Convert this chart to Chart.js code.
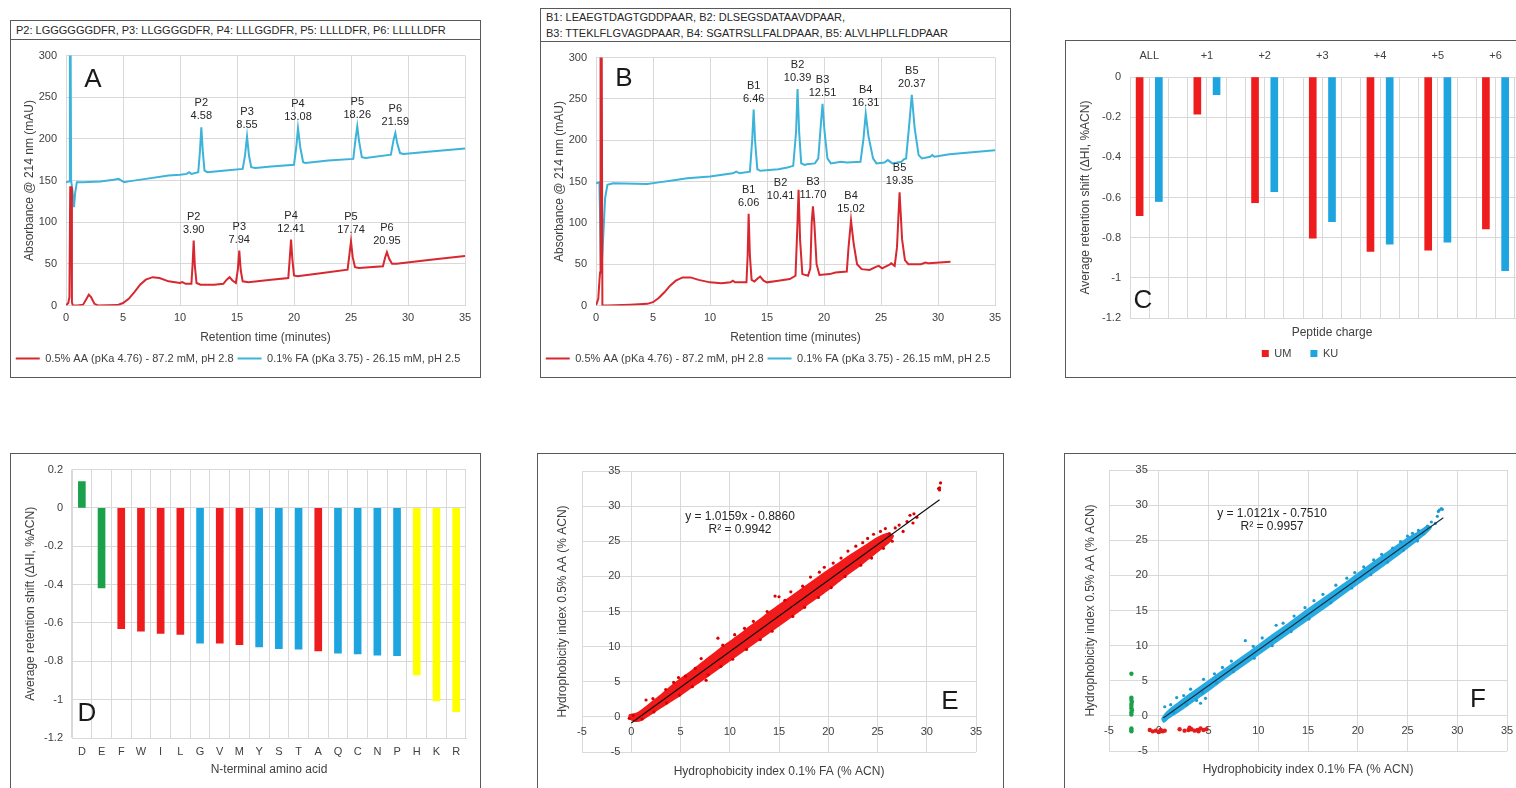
<!DOCTYPE html>
<html>
<head>
<meta charset="utf-8">
<script src="https://cdn.jsdelivr.net/npm/chart.js@4.4.1/dist/chart.umd.min.js"></script>
<style>
  html, body { margin: 0; padding: 0; background: #fff; }
  body { width: 1516px; height: 788px; position: relative; overflow: hidden;
         font-family: "Liberation Sans", Arial, sans-serif; color: #404040; }
  .panel { position: absolute; box-sizing: border-box; border: 1px solid #595959; }
  .seq { position: absolute; left: 0; right: 0; top: 0; box-sizing: border-box;
         border-bottom: 1px solid #595959; font-size: 11px; color: #262626;
         line-height: 16px; padding-left: 5px; white-space: nowrap; }
  canvas { position: absolute; }
  .tag { position: absolute; font-size: 26px; color: #1a1a1a; line-height: 1;
         transform: translate(-50%, -50%); }
  .fit { position: absolute; font-size: 12px; color: #262626; text-align: center;
         line-height: 13px; transform: translateX(-50%); white-space: nowrap; }
</style>
</head>
<body>

<div class="panel" style="left:10px;top:20px;width:471px;height:358px;">
  <div class="seq" style="height:19px;padding-top:1px;">P2: LGGGGGGDFR, P3: LLGGGGDFR, P4: LLLGGDFR, P5: LLLLDFR, P6: LLLLLDFR</div>
</div>
<div class="panel" style="left:540px;top:8px;width:471px;height:370px;">
  <div class="seq" style="height:33px;padding-top:0;">B1: LEAEGTDAGTGDDPAAR, B2: DLSEGSDATAAVDPAAR,<br>B3: TTEKLFLGVAGDPAAR, B4: SGATRSLLFALDPAAR, B5: ALVLHPLLFLDPAAR</div>
</div>
<div class="panel" style="left:1065px;top:40px;width:480px;height:338px;"></div>
<div class="panel" style="left:10px;top:453px;width:471px;height:360px;"></div>
<div class="panel" style="left:537px;top:453px;width:467px;height:360px;"></div>
<div class="panel" style="left:1064px;top:453px;width:480px;height:360px;"></div>

<canvas id="chartA" width="469" height="337" style="left:11px;top:40px;"></canvas>
<canvas id="chartB" width="469" height="335" style="left:541px;top:42px;"></canvas>
<canvas id="chartC" width="470" height="336" style="left:1066px;top:41px;"></canvas>
<canvas id="chartD" width="469" height="334" style="left:11px;top:454px;"></canvas>
<canvas id="chartE" width="465" height="334" style="left:538px;top:454px;"></canvas>
<canvas id="chartF" width="470" height="334" style="left:1065px;top:454px;"></canvas>

<div class="tag" style="left:93px;top:78px;">A</div>
<div class="tag" style="left:624px;top:77px;">B</div>
<div class="tag" style="left:1143px;top:299px;">C</div>
<div class="tag" style="left:87px;top:712px;">D</div>
<div class="tag" style="left:950px;top:700px;">E</div>
<div class="tag" style="left:1478px;top:698px;">F</div>

<div class="fit" id="fitE" style="left:740px;top:510px;"></div>
<div class="fit" id="fitF" style="left:1272px;top:507px;"></div>

<script>
// ---- chromatograms (retention time in min, absorbance in mAU) ----
const aaTraceA = [[0,0],[0.2,3],[0.3,10],[0.37,142],[0.45,142],[0.52,4],[0.6,0],[1.0,0],[1.5,1],[1.8,8],[2.0,13],[2.2,10],
  [2.5,2],[2.8,0],[4.5,0.5],[5,3],[5.5,8],[6,16],[6.5,25],[7,31],[7.6,34],[8.2,33],[9,29],[10,27],[10.2,28],[10.5,26],
  [11.0,26],[11.1,48],[11.2,78],[11.3,48],[11.45,27],[11.8,25],[13,25],[13.8,26],[14.1,31],[14.35,34],[14.6,30],[14.9,27],
  [15.08,44],[15.2,66],[15.33,42],[15.5,29],[16,28],[18,31],[19.5,33],[19.62,55],[19.74,79],[19.86,55],[20.0,36],[20.3,35],
  [22,38],[24.7,43],[24.85,60],[25.0,77],[25.15,58],[25.35,46],[25.7,45],[27.8,47],[28.0,58],[28.15,64],[28.35,56],[28.6,50],
  [29,50],[32,55],[35,59.5]];
const faTraceA = [[0,148],[0.3,149],[0.34,330],[0.4,330],[0.45,150],[0.55,140],[0.7,118],[0.8,135],[0.95,148],[1.5,148],
  [3,149],[4.2,151],[4.6,152],[5.1,148],[5.5,149],[7,152],[9,156],[10,157],[10.6,158],[10.8,160],[11,158],[11.6,160],
  [11.75,185],[11.87,214],[12.0,185],[12.15,162],[12.4,160],[14,162],[15.5,164],[15.7,180],[15.88,203],[16.05,180],
  [16.25,166],[16.6,165],[18,167],[20.0,169],[20.2,190],[20.35,213],[20.55,190],[20.8,172],[21,171],[23,174],[25.2,176],
  [25.4,200],[25.55,215],[25.7,198],[25.95,178],[26.3,177],[28.5,181],[28.75,200],[28.89,207],[29.05,195],[29.3,183],
  [29.6,182],[32,185],[35,188.5]];
const aaTraceB = [[0,0],[0.2,8],[0.3,30],[0.36,40],[0.4,330],[0.5,330],[0.56,0],[1,0],[3,1],[4.5,2],[5,4],[5.5,9],[6,16],
  [6.5,24],[7,30],[7.6,34],[8.3,34],[9,31],[10,28],[11,27],[11.8,28],[12,30],[12.2,28],[13.2,28],[13.3,60],[13.39,111],
  [13.5,60],[13.65,31],[13.9,29],[14.2,33],[14.4,35],[14.7,30],[15,28],[16,30],[17,32],[17.5,36],[17.65,90],[17.77,140],
  [17.9,80],[18.1,38],[18.6,36],[18.8,45],[18.92,100],[19.03,120],[19.15,100],[19.35,50],[19.6,37],[20.5,38],[21,40],
  [22,41],[22.15,70],[22.37,103],[22.6,75],[22.9,50],[23.3,44],[24,43],[24.6,47],[24.8,48],[25.1,45],[25.7,49],[25.9,51],
  [26.2,48],[26.4,70],[26.63,137],[26.85,80],[27.1,55],[27.4,50],[28.5,50],[28.9,52],[29.2,51],[31.1,53]];
const faTraceB = [[0,148],[0.3,149],[0.45,40],[0.55,60],[0.8,130],[1.0,146],[1.5,148],[4.5,147],[5.5,149],[7,152],[8,154],
  [10,156],[12,160],[12.3,162],[12.6,160],[13.5,162],[13.7,200],[13.83,237],[13.95,200],[14.15,165],[14.4,163],[16,165],
  [16.8,167],[17.3,169],[17.55,210],[17.68,262],[17.82,210],[18.0,172],[18.3,170],[18.5,171],[19.2,172],[19.5,178],
  [19.7,215],[19.87,244],[20.05,210],[20.3,178],[20.6,172],[21.5,174],[22,173],[23.2,174],[23.45,200],[23.66,232],
  [23.9,205],[24.3,178],[24.6,172],[25.3,173],[25.6,176],[26,172],[26.8,174],[27.0,177],[27.2,178],[27.45,215],[27.7,255],
  [27.95,215],[28.3,182],[28.6,178],[29.3,180],[29.5,182],[29.7,180],[31,183],[35,188]];

// peaks: names, apex time, hydrophobicity index printed above each peak
const peptidesA = ['P2', 'P3', 'P4', 'P5', 'P6'];
const aaPeakTimesA = [11.2, 15.2, 19.74, 25.0, 28.15];
const aaHiA = ['3.90', '7.94', '12.41', '17.74', '20.95'];
const faPeakTimesA = [11.87, 15.88, 20.35, 25.55, 28.89];
const faHiA = ['4.58', '8.55', '13.08', '18.26', '21.59'];
const peptidesB = ['B1', 'B2', 'B3', 'B4', 'B5'];
const aaPeakTimesB = [13.39, 17.77, 19.03, 22.37, 26.63];
const aaHiB = ['6.06', '10.41', '11.70', '15.02', '19.35'];
const faPeakTimesB = [13.83, 17.68, 19.87, 23.66, 27.7];
const faHiB = ['6.46', '10.39', '12.51', '16.31', '20.37'];

// ---- average retention shift by peptide charge ----
const charges = ['ALL', '+1', '+2', '+3', '+4', '+5', '+6'];
const umShift = [-0.69, -0.185, -0.626, -0.803, -0.869, -0.862, -0.757];
const kuShift = [-0.62, -0.088, -0.571, -0.72, -0.833, -0.823, -0.964];

// ---- average retention shift by N-terminal residue ----
const residues = ['D','E','F','W','I','L','G','V','M','Y','S','T','A','Q','C','N','P','H','K','R'];
const residueShift = [0.137, -0.417, -0.630, -0.643, -0.654, -0.660, -0.706, -0.706, -0.713, -0.725,
  -0.734, -0.737, -0.746, -0.758, -0.761, -0.768, -0.771, -0.871, -1.006, -1.063];
const residueGroup = ['acidic','acidic','hydrophobic','hydrophobic','hydrophobic','hydrophobic','polar','hydrophobic',
  'hydrophobic','polar','polar','polar','hydrophobic','polar','polar','polar','polar','basic','basic','basic'];

// ---- HI correlation, AA vs FA ----
const eCloud = [[-0.2,0.3],[0.5,0.5],[1,0.9],[2,2.0],[3,3.1],[4,4.3],[5,5.4],[6,6.4],[7,7.5],[8,8.6],[9,9.7],[10,10.7],
  [11,11.7],[12,12.8],[13,13.8],[14,14.9],[15,15.9],[16,16.9],[17,17.9],[18,18.9],[19,19.9],[20,20.9],[21,21.8],
  [22,22.8],[23,23.7],[24,24.6],[25,25.5],[26,26.1],[26.6,25.8],[26.2,24.9],[25,23.5],[24,22.4],[23,21.3],[22,20.3],
  [21,19.2],[20,18.1],[19,17.1],[18,16.1],[17,15.0],[16,14.0],[15,13.0],[14,12.0],[13,11.0],[12,10.0],[11,9.0],
  [10,8.0],[9,7.0],[8,6.0],[7,5.0],[6,4.1],[5,3.1],[4,2.2],[3,1.3],[2,0.4],[1,-0.5],[0.3,-0.6],[-0.2,-0.2],[-0.2,0.3]];
const eSpread = [[1.5,2.4],[2.2,2.6],[3.5,3.9],[4.3,4.9],[4.8,5.6],[5.5,5.8],[6.5,6.9],[7.1,8.3],[7.6,5.2],[8.8,11.2],
  [9.3,10.2],[10.5,11.7],[11.5,12.6],[12.4,13.6],[13.8,15.0],[14.6,17.2],[15.0,17.1],[15.6,16.6],[16.2,17.8],
  [17.4,18.6],[18.2,19.9],[19.1,20.6],[19.6,21.3],[20.5,21.9],[21.3,22.6],[22.0,23.6],[22.8,24.3],[23.5,24.8],
  [24.0,25.4],[24.6,26.0],[25.3,26.4],[25.8,26.8],[26.2,26.1],[26.8,26.9],[27.2,27.3],[27.6,26.4],[28.0,27.8],
  [28.3,28.7],[28.7,28.9],[29.0,28.4],[28.6,27.6],[26.5,25.0],[25.6,24.0],[24.4,22.6],[23.3,21.6],[21.7,20.0],
  [20.3,18.4],[19.0,17.0],[17.6,15.6],[16.4,14.3],[14.3,12.2],[13.1,11.0],[11.7,9.6],[10.3,8.2],[9.1,7.2],[7.8,6.0],
  [6.2,4.3],[4.9,3.1],[3.6,2.0],[2.3,0.7],[1.1,-0.3],[0.2,0.2],[-0.2,-0.2],[31.3,32.3],[31.3,32.6],[31.4,33.3],[31.2,32.5]];
const eFit = { slope: 1.0159, intercept: -0.8860, r2: '0.9942', from: 0, to: 31.3 };

const fCloud = [[0.3,-0.4],[0.6,0.2],[1,0.8],[2,1.9],[3,3.0],[4,4.0],[5,5.0],[7,7.0],[9,9.0],[11,11.1],[13,13.1],
  [15,15.2],[17,17.2],[19,19.2],[21,21.3],[23,23.3],[25,25.3],[26,26.1],[27,27.0],[27.4,26.9],[27,26.2],[26,25.0],
  [25,23.9],[23,21.8],[21,19.8],[19,17.8],[17,15.7],[15,13.7],[13,11.7],[11,9.7],[9,7.7],[7,5.7],[5,3.6],[4,2.6],
  [3,1.6],[2,0.6],[1,-0.3],[0.5,-0.9],[0.3,-0.4]];
const fSpread = [[0.6,1.3],[1.2,1.6],[1.8,2.6],[2.5,2.9],[3.2,3.8],[3.8,2.2],[4.2,1.8],[4.7,2.5],[4.5,5.2],[5.6,6.0],
  [6.4,6.9],[7.3,7.8],[8.7,10.7],[9.5,9.9],[10.4,11.1],[11.8,12.9],[12.5,13.2],[13.6,14.2],[14.7,15.4],[15.6,16.4],
  [16.5,17.3],[17.8,18.6],[18.9,19.6],[19.7,20.4],[20.6,21.2],[21.6,22.2],[22.4,23.0],[23.5,23.9],[24.3,24.8],
  [25.0,25.6],[25.5,26.0],[26.1,26.4],[26.6,25.9],[27.0,27.0],[27.4,27.6],[27.8,27.4],[28.0,28.4],[28.2,29.3],
  [28.4,29.5],[28.1,29.1],[28.5,29.4],[26.0,24.9],[24.6,23.6],[23.0,21.9],[21.3,20.1],[19.4,18.2],[17.3,16.1],
  [15.1,13.8],[13.3,12.0],[11.4,10.0],[9.6,8.2],[7.5,6.3],[5.8,4.7],[4.4,3.3],[2.8,1.6],[1.5,0.5]];
const fAcidic = [[-2.75,6.0],[-2.75,2.6],[-2.75,2.3],[-2.7,2.0],[-2.75,1.7],[-2.75,1.4],[-2.75,1.1],[-2.7,0.8],
  [-2.75,0.5],[-2.75,0.2],[-2.75,-1.8],[-2.75,-2.0],[-2.75,-2.2]];
const fShifted = [[-0.9,-2.0],[-0.6,-2.2],[-0.3,-2.1],[0,-2.3],[0.2,-2.0],[0.4,-2.2],[0.6,-2.1],[2.1,-1.9],[2.6,-2.1],
  [3.0,-2.0],[3.1,-1.7],[3.3,-1.9],[3.6,-2.1],[3.9,-2.0],[4.0,-2.2],[4.2,-1.8],[4.5,-2.0],[4.8,-1.9]];
const fFit = { slope: 1.0121, intercept: -0.7510, r2: '0.9957', from: 0.45, to: 28.6 };

// ---- shared styling ----
const FONT = '"Liberation Sans", Arial, sans-serif';
const GRID = '#d9d9d9';
const TRACE_RED = '#d7282f';
const TRACE_BLUE = '#3cb3d8';
const BAR_RED = '#ee1c1c';
const BAR_BLUE = '#1ea5e0';
const GROUP_COLORS = { acidic: '#1ca14b', hydrophobic: BAR_RED, polar: BAR_BLUE, basic: '#ffff00' };

Chart.defaults.font.family = FONT;
Chart.defaults.font.size = 11;
Chart.defaults.color = '#404040';
Chart.defaults.animation = false;
Chart.defaults.responsive = false;
Chart.defaults.devicePixelRatio = 1;
Chart.defaults.plugins.tooltip.enabled = false;

const fixWidth = w => axis => { axis.width = w; };
const fixHeight = h => axis => { axis.height = h; };
const titleFont = { size: 12 };
const shortNum = v => String(Math.round(v * 10) / 10);

// two-line peak annotation above each apex
function peakLabels(sets) {
  return {
    id: 'peakLabels',
    afterDatasetsDraw(chart) {
      const { ctx, scales: { x, y } } = chart;
      ctx.save();
      ctx.font = '11px ' + FONT;
      ctx.fillStyle = '#262626';
      ctx.textAlign = 'center';
      ctx.textBaseline = 'middle';
      sets.forEach(set => {
        const trace = chart.data.datasets[set.dataset].data;
        set.times.forEach((t, i) => {
          const near = trace.filter(p => Math.abs(p[0] - t) < 0.2);
          const apex = near.reduce((a, b) => (b[1] > a[1] ? b : a));
          const [dx, dy] = (set.nudge && set.nudge[i]) || [0, 0];
          const px = x.getPixelForValue(apex[0]) + dx;
          const py = y.getPixelForValue(apex[1]) + dy;
          ctx.fillText(set.names[i], px, py - 24);
          ctx.fillText(set.values[i], px, py - 11);
        });
      });
      ctx.restore();
    }
  };
}

function chromatogram(id, padTop, aaTrace, faTrace, sets) {
  return new Chart(document.getElementById(id), {
    type: 'line',
    data: {
      datasets: [
        { label: '0.5% AA (pKa 4.76) - 87.2 mM, pH 2.8', data: aaTrace, borderColor: TRACE_RED,
          backgroundColor: TRACE_RED, borderWidth: 2, pointRadius: 0, tension: 0 },
        { label: '0.1% FA (pKa 3.75) - 26.15 mM, pH 2.5', data: faTrace, borderColor: TRACE_BLUE,
          backgroundColor: TRACE_BLUE, borderWidth: 2, pointRadius: 0, tension: 0 }
      ]
    },
    options: {
      layout: { padding: { left: 0, right: 15, top: padTop, bottom: 3 } },
      scales: {
        x: { type: 'linear', min: 0, max: 35,
             ticks: { stepSize: 5, padding: 6 },
             grid: { color: GRID, drawTicks: false }, border: { color: GRID },
             title: { display: true, text: 'Retention time (minutes)', padding: { bottom: 4.3 }, font: titleFont },
             afterFit: fixHeight(43.5) },
        y: { min: 0, max: 300,
             ticks: { stepSize: 50, padding: 9 },
             grid: { color: GRID, drawTicks: false }, border: { color: GRID },
             title: { display: true, text: 'Absorbance @ 214 nm (mAU)', padding: { top: 11 }, font: titleFont },
             afterFit: fixWidth(55) }
      },
      plugins: {
        legend: { position: 'bottom',
                  labels: { usePointStyle: true, pointStyle: 'line', pointStyleWidth: 24, padding: 4,
                            font: { size: 11 }, color: '#404040' } }
      }
    },
    plugins: [peakLabels(sets)]
  });
}

chromatogram('chartA', 15, aaTraceA, faTraceA, [
  { dataset: 0, names: peptidesA, times: aaPeakTimesA, values: aaHiA },
  { dataset: 1, names: peptidesA, times: faPeakTimesA, values: faHiA }
]);
chromatogram('chartB', 14, aaTraceB, faTraceB, [
  { dataset: 0, names: peptidesB, times: aaPeakTimesB, values: aaHiB, nudge: [null, [-18, 17]] },
  { dataset: 1, names: peptidesB, times: faPeakTimesB, values: faHiB }
]);

// C: two bars per charge state, three grid slots per group
new Chart(document.getElementById('chartC'), {
  type: 'bar',
  data: {
    datasets: [
      { label: 'UM', data: umShift.map((v, i) => ({ x: 3 * i + 0.5, y: v })), backgroundColor: BAR_RED,
        barThickness: 7, grouped: false },
      { label: 'KU', data: kuShift.map((v, i) => ({ x: 3 * i + 1.5, y: v })), backgroundColor: BAR_BLUE,
        barThickness: 7, grouped: false }
    ]
  },
  options: {
    layout: { padding: { left: 0, right: 2, top: 0, bottom: 8 } },
    scales: {
      x: { type: 'linear', min: 0, max: 21, offset: false,
           ticks: { display: false, stepSize: 1 },
           grid: { color: GRID, drawTicks: false, offset: false }, border: { color: GRID },
           title: { display: true, text: 'Peptide charge', padding: 0, font: titleFont },
           afterFit: fixHeight(22) },
      xTop: { type: 'linear', position: 'top', min: 0, max: 21, offset: false,
              grid: { display: false, drawTicks: false }, border: { display: false },
              ticks: { autoSkip: false, maxRotation: 0, padding: 14, callback: (v, i) => charges[i] },
              afterBuildTicks: axis => { axis.ticks = charges.map((c, i) => ({ value: 3 * i + 1 })); },
              afterFit: fixHeight(36) },
      y: { min: -1.2, max: 0,
           ticks: { stepSize: 0.2, padding: 9, callback: shortNum },
           grid: { color: GRID, drawTicks: false }, border: { color: GRID },
           title: { display: true, text: 'Average retention shift (ΔHI, %ACN)', padding: { top: 12 }, font: titleFont },
           afterFit: fixWidth(64) }
    },
    plugins: {
      legend: { position: 'bottom',
                labels: { boxWidth: 7, boxHeight: 7, padding: 8, font: { size: 11 },
                          generateLabels: chart => Chart.defaults.plugins.legend.labels.generateLabels(chart)
                            .map((item, i) => (i === 0 ? { ...item, text: item.text + '\u2002\u2002' } : item)) } }
    }
  }
});

// D: shift per N-terminal residue, coloured by residue class
new Chart(document.getElementById('chartD'), {
  type: 'bar',
  data: {
    labels: residues,
    datasets: [{ data: residueShift, backgroundColor: residueGroup.map(g => GROUP_COLORS[g]), barThickness: 7 }]
  },
  options: {
    layout: { padding: { left: 0, right: 14, top: 12, bottom: 11.4 } },
    scales: {
      x: { grid: { color: GRID, drawTicks: false }, border: { color: GRID },
           ticks: { padding: 7 },
           title: { display: true, text: 'N-terminal amino acid', padding: 0, font: titleFont },
           afterFit: fixHeight(38.6) },
      y: { min: -1.2, max: 0.2,
           ticks: { stepSize: 0.2, padding: 9, callback: shortNum },
           grid: { color: GRID, drawTicks: false }, border: { color: GRID },
           title: { display: true, text: 'Average retention shift (ΔHI, %ACN)', padding: { top: 12 }, font: titleFont },
           afterFit: fixWidth(61) }
    },
    plugins: { legend: { display: false } }
  }
});

// E / F: HI in AA against HI in FA, axes crossing at the origin
function fitLine(fit) {
  return [fit.from, fit.to].map(x => [x, fit.slope * x + fit.intercept]);
}
function fitText(el, fit) {
  const sign = fit.intercept < 0 ? '-' : '+';
  document.getElementById(el).innerHTML =
    'y = ' + fit.slope.toFixed(4) + 'x ' + sign + ' ' + Math.abs(fit.intercept).toFixed(4) + '<br>R² = ' + fit.r2;
}

function correlation(id, pad, titleW, titleH, datasets) {
  return new Chart(document.getElementById(id), {
    type: 'line',
    data: { datasets },
    options: {
      layout: { padding: pad },
      scales: {
        x: { type: 'linear', min: -5, max: 35, position: { y: 0 },
             ticks: { stepSize: 5, padding: 8 },
             grid: { color: GRID, drawTicks: false }, border: { display: false } },
        y: { type: 'linear', min: -5, max: 35, position: { x: -1.1 },
             ticks: { stepSize: 5, padding: 0 },
             grid: { color: GRID, drawTicks: false }, border: { display: false } },
        xTitle: { type: 'linear', position: 'bottom', ticks: { display: false },
                  grid: { display: false, drawTicks: false }, border: { display: false },
                  title: { display: true, text: 'Hydrophobicity index 0.1% FA (% ACN)', padding: 0, font: titleFont },
                  afterFit: fixHeight(titleH) },
        yTitle: { type: 'linear', position: 'left', ticks: { display: false },
                  grid: { display: false, drawTicks: false }, border: { display: false },
                  title: { display: true, text: 'Hydrophobicity index 0.5% AA (% ACN)', padding: 0, font: titleFont },
                  afterFit: fixWidth(titleW) }
      },
      plugins: { legend: { display: false } }
    }
  });
}

const pts = (data, color, r) => ({ data, showLine: false, pointRadius: r, pointBorderWidth: 0,
  pointBackgroundColor: color, borderColor: color });
const cloud = (data, color) => ({ data, borderColor: color, borderWidth: 1.5, backgroundColor: color,
  fill: 'shape', pointRadius: 0, tension: 0.2 });
const trend = (fit, color) => ({ data: fitLine(fit), borderColor: color, borderWidth: 1.2, pointRadius: 0 });

correlation('chartE', { left: 17.4, right: 27, top: 17, bottom: 9.4 }, 26.6, 26.6, [
  trend(eFit, '#111111'),
  pts(eSpread, '#d80000', 1.6),
  cloud(eCloud, '#f21a1a')
]);
correlation('chartF', { left: 18.4, right: 28, top: 16, bottom: 11.4 }, 25.6, 25.6, [
  trend(fFit, '#17324a'),
  pts(fAcidic, '#1ca14b', 2.2),
  pts(fShifted, '#e31b1b', 2.2),
  pts(fSpread, '#1b9ad3', 1.6),
  cloud(fCloud, '#27aae1')
]);
fitText('fitE', eFit);
fitText('fitF', fFit);
</script>
</body>
</html>
